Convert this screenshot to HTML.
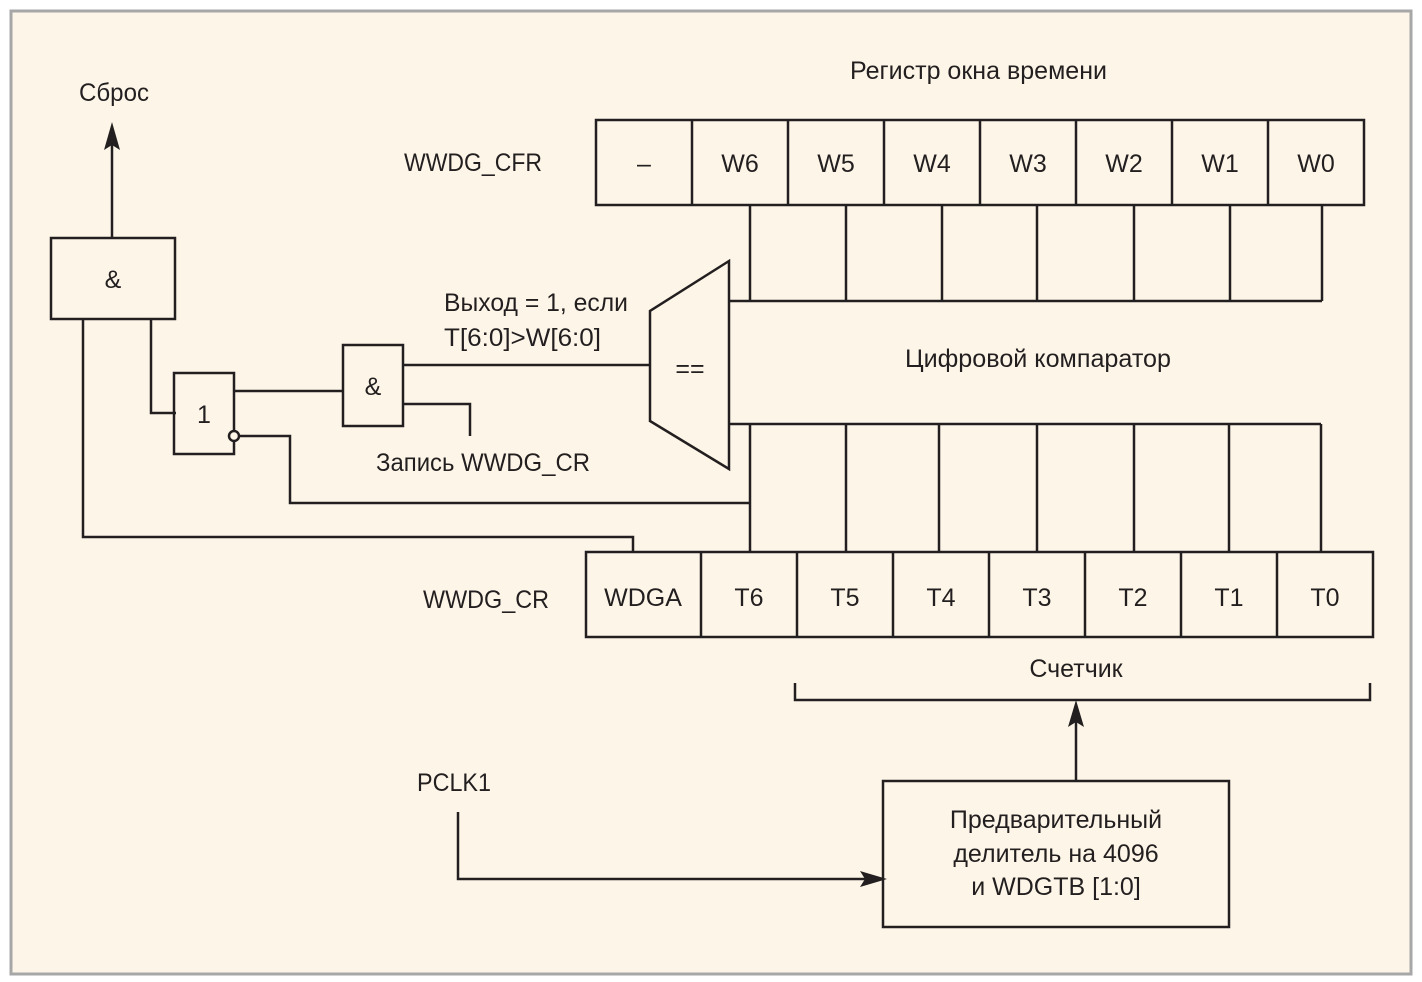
<!DOCTYPE html>
<html><head><meta charset="utf-8"><style>
html,body{margin:0;padding:0;background:#fff;}
svg{display:block}
text{font-family:"Liberation Sans Narrow","Liberation Sans",sans-serif;font-size:25px;fill:#231f20;}
</style></head><body>
<svg width="1422" height="982" viewBox="0 0 1422 982" xmlns="http://www.w3.org/2000/svg">
<rect x="0" y="0" width="1422" height="982" fill="#ffffff"/>
<rect x="11" y="11" width="1400" height="963" fill="#fdf6e8" stroke="#a7a7a7" stroke-width="3"/>
<g stroke="#231f20" stroke-width="2.5" fill="none">
<!-- CFR -->
<rect x="596" y="120" width="768" height="85"/>
<path d="M692 120V205M788 120V205M884 120V205M980 120V205M1076 120V205M1172 120V205M1268 120V205"/>
<!-- CR -->
<rect x="586" y="552" width="787" height="85"/>
<path d="M701 552V637M797 552V637M893 552V637M989 552V637M1085 552V637M1181 552V637M1277 552V637"/>
<!-- top grid -->
<path d="M750 205V301M846 205V301M942 205V301M1037 205V301M1134 205V301M1230 205V301M1322 205V301M729 301H1322"/>
<!-- bottom grid -->
<path d="M750 424V552M846 424V552M939 424V552M1037 424V552M1134 424V552M1229 424V552M1321 424V552M729 424H1321"/>
<!-- comparator -->
<path d="M729 261L650 311V421L729 469Z"/>
<!-- gates -->
<rect x="51" y="238" width="124" height="81"/>
<rect x="174" y="373" width="60" height="81"/>
<rect x="343" y="345" width="60" height="81"/>
<path d="M112 238V140"/>
<path d="M83 319V537H633V552"/>
<path d="M151 319V413H176"/>
<path d="M234 391H343"/>
<path d="M238 436H290V503H750"/>
<path d="M403 365H650"/>
<path d="M403 404H470V436"/>
<!-- bracket & prescaler -->
<path d="M795 683V700H1370V683"/>
<path d="M1076 781V720"/>
<rect x="883" y="781" width="346" height="146"/>
<path d="M458 812V879H870"/>
</g>
<circle cx="234" cy="436" r="5" fill="#fdf6e8" stroke="#231f20" stroke-width="2.5"/>
<path d="M112 122L104 150L112 145L120 150Z" fill="#231f20"/>
<path d="M1076 700L1068 727L1076 722L1084 727Z" fill="#231f20"/>
<path d="M887 879L860 871L865 879L860 887Z" fill="#231f20"/>
<!-- text -->
<text x="850" y="79" textLength="257" lengthAdjust="spacingAndGlyphs">Регистр окна времени</text>
<text x="79" y="101" textLength="70" lengthAdjust="spacingAndGlyphs">Сброс</text>
<text x="404" y="171" textLength="138" lengthAdjust="spacingAndGlyphs">WWDG_CFR</text>
<text x="644" y="172" text-anchor="middle">–</text>
<text x="740" y="172" text-anchor="middle">W6</text>
<text x="836" y="172" text-anchor="middle">W5</text>
<text x="932" y="172" text-anchor="middle">W4</text>
<text x="1028" y="172" text-anchor="middle">W3</text>
<text x="1124" y="172" text-anchor="middle">W2</text>
<text x="1220" y="172" text-anchor="middle">W1</text>
<text x="1316" y="172" text-anchor="middle">W0</text>
<text x="113" y="288" text-anchor="middle">&amp;</text>
<text x="204" y="423" text-anchor="middle">1</text>
<text x="373" y="395" text-anchor="middle">&amp;</text>
<text x="690" y="377" text-anchor="middle">==</text>
<text x="444" y="311" textLength="184" lengthAdjust="spacingAndGlyphs">Выход = 1, если</text>
<text x="444" y="346" textLength="157" lengthAdjust="spacingAndGlyphs">T[6:0]&gt;W[6:0]</text>
<text x="905" y="367" textLength="266" lengthAdjust="spacingAndGlyphs">Цифровой компаратор</text>
<text x="376" y="471" textLength="214" lengthAdjust="spacingAndGlyphs">Запись WWDG_CR</text>
<text x="423" y="608" textLength="126" lengthAdjust="spacingAndGlyphs">WWDG_CR</text>
<text x="643" y="606" text-anchor="middle">WDGA</text>
<text x="749" y="606" text-anchor="middle">T6</text>
<text x="845" y="606" text-anchor="middle">T5</text>
<text x="941" y="606" text-anchor="middle">T4</text>
<text x="1037" y="606" text-anchor="middle">T3</text>
<text x="1133" y="606" text-anchor="middle">T2</text>
<text x="1229" y="606" text-anchor="middle">T1</text>
<text x="1325" y="606" text-anchor="middle">T0</text>
<text x="1076" y="677" text-anchor="middle">Счетчик</text>
<text x="417" y="791" textLength="74" lengthAdjust="spacingAndGlyphs">PCLK1</text>
<text x="1056" y="828" text-anchor="middle">Предварительный</text>
<text x="1056" y="862" text-anchor="middle">делитель на 4096</text>
<text x="1056" y="895" text-anchor="middle">и WDGTB [1:0]</text>
</svg>
</body></html>
